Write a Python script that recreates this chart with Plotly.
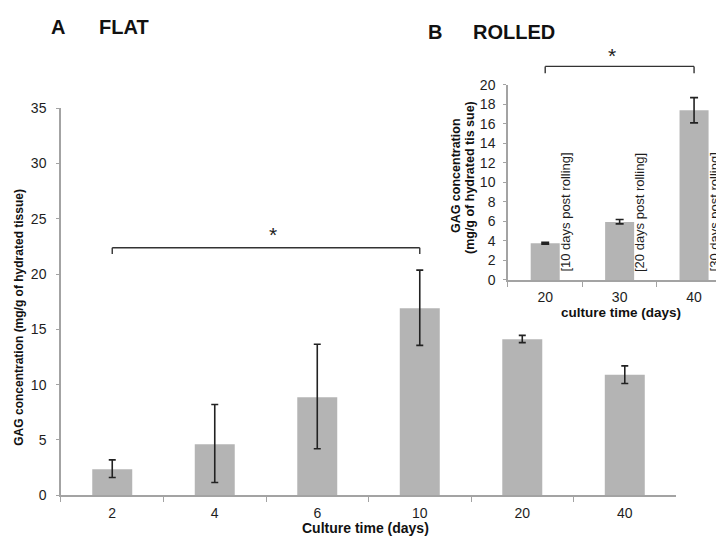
import plotly.graph_objects as go

# ---- data: panel A (flat) ----
flat_days = ["2", "4", "6", "10", "20", "40"]
flat_gag = [2.35, 4.6, 8.85, 16.9, 14.1, 10.9]
flat_err_hi = [3.2, 8.2, 13.65, 20.35, 14.45, 11.7]
flat_err_lo = [1.6, 1.15, 4.2, 13.55, 13.8, 10.1]

# ---- data: panel B (rolled) ----
rolled_days = ["20", "30", "40"]
rolled_gag = [3.75, 5.95, 17.4]
rolled_err_hi = [3.85, 6.2, 18.7]
rolled_err_lo = [3.67, 5.75, 16.1]
rolled_notes = ["[10 days post rolling]", "[20 days post rolling]", "[30 days post rolling]"]

main_yticks = [0, 5, 10, 15, 20, 25, 30, 35]
inset_yticks = [0, 2, 4, 6, 8, 10, 12, 14, 16, 18, 20]

sig_a = ("2", "10", 22.37)   # bracket from, to, height (data units)
sig_b = ("20", "40", 21.9)

FONT = "Liberation Sans, Arial, sans-serif"
BAR = "#b4b4b4"
AX = "#a3a3a3"
ERR = "#222222"
TXT = "#1e1e1e"

fig = go.Figure()

fig.add_trace(go.Bar(
    x=flat_days, y=flat_gag, marker_color=BAR, marker_line_width=0,
    error_y=dict(type="data", symmetric=False,
                 array=[h - m for h, m in zip(flat_err_hi, flat_gag)],
                 arrayminus=[m - l for l, m in zip(flat_err_lo, flat_gag)],
                 color=ERR, thickness=1.6, width=3.5),
    xaxis="x", yaxis="y", showlegend=False))

fig.add_trace(go.Bar(
    x=rolled_days, y=rolled_gag, marker_color=BAR, marker_line_width=0,
    error_y=dict(type="data", symmetric=False,
                 array=[h - m for h, m in zip(rolled_err_hi, rolled_gag)],
                 arrayminus=[m - l for l, m in zip(rolled_err_lo, rolled_gag)],
                 color=ERR, thickness=1.6, width=4),
    xaxis="x2", yaxis="y2", showlegend=False))

axis_common = dict(showline=True, linecolor=AX, linewidth=1.5, showgrid=False,
                   zeroline=False, ticks="outside", tickcolor=AX, tickwidth=1.2,
                   tickfont=dict(family=FONT, size=14, color=TXT))

fig.update_layout(
    width=724, height=536,
    margin=dict(l=0, r=0, t=0, b=0),
    paper_bgcolor="white", plot_bgcolor="rgba(0,0,0,0)",
    bargap=0.61,
    xaxis=dict(axis_common, type="category", domain=[0.0732, 0.9227], anchor="y",
               range=[-0.5, len(flat_days) - 0.5],
               tickson="boundaries", ticklen=5, ticklabelstandoff=4),
    yaxis=dict(axis_common, domain=[0.0784, 0.8228], anchor="x", range=[0, 35],
               tickvals=main_yticks, ticklen=3, ticklabelstandoff=7),
    xaxis2=dict(axis_common, type="category", domain=[0.6906, 0.999], anchor="y2",
                range=[-0.5, len(rolled_days) - 0.5],
                tickson="boundaries", ticklen=5, ticklabelstandoff=4),
    yaxis2=dict(axis_common, domain=[0.4925, 0.8675], anchor="x2", range=[0, 20],
                tickvals=inset_yticks, ticklen=3, ticklabelstandoff=5),
)

line = dict(color="#333333", width=1.4)

def bracket(xref, yref, i0, i1, y, drop):
    fig.add_shape(type="line", xref=xref, yref=yref, x0=i0, x1=i1, y0=y, y1=y, line=line)
    fig.add_shape(type="line", xref=xref, yref=yref, x0=i0, x1=i0, y0=y, y1=y - drop, line=line)
    fig.add_shape(type="line", xref=xref, yref=yref, x0=i1, x1=i1, y0=y, y1=y - drop, line=line)

# panel A bracket
a0, a1 = flat_days.index(sig_a[0]), flat_days.index(sig_a[1])
bracket("x", "y", a0, a1, sig_a[2], 0.55)
fig.add_annotation(xref="x", yref="y", x=(a0 + a1) / 2, y=sig_a[2], yanchor="bottom",
                   text="*", showarrow=False, yshift=0, xshift=7,
                   font=dict(family=FONT, size=21, color=TXT))

# panel B bracket (above inset range -> domain reference)
b0, b1 = rolled_days.index(sig_b[0]), rolled_days.index(sig_b[1])
bracket("x2", "y2 domain", b0, b1, sig_b[2] / 20.0, 0.035)
fig.add_annotation(xref="x2", yref="y2 domain", x=(b0 + b1) / 2, y=sig_b[2] / 20.0,
                   yanchor="bottom", text="*", showarrow=False, yshift=-3, xshift=-8,
                   font=dict(family=FONT, size=21, color=TXT))

# rotated notes next to inset bars
for i, note in enumerate(rolled_notes):
    fig.add_annotation(xref="x2", yref="y2", x=i, y=0, xshift=20, yshift=6,
                       xanchor="center", yanchor="bottom", textangle=-90,
                       text=note, showarrow=False,
                       font=dict(family=FONT, size=13, color=TXT))

def ptext(x, y, text, size, bold=True, angle=0, xanchor="center"):
    fig.add_annotation(xref="paper", yref="paper", x=x / 724, y=1 - y / 536,
                       text=f"<b>{text}</b>" if bold else text, showarrow=False,
                       textangle=angle, xanchor=xanchor, yanchor="middle",
                       font=dict(family=FONT, size=size, color="#111111"))

ptext(50, 11, "A", 20)
ptext(116, 11, "FLAT", 20)
ptext(427, 16, "B", 20)
ptext(506, 16, "ROLLED", 20)
ptext(11, 311, "GAG concentration (mg/g of hydrated tissue)", 12, angle=-90)
ptext(357, 528, "Culture time (days)", 14)
ptext(448, 165, "GAG concentration", 12.5, angle=-90)
ptext(462, 167, "(mg/g of hydrated tis sue)", 12.5, angle=-90)
ptext(613, 306, "culture time (days)", 13.5)

fig.write_html("out.html")
